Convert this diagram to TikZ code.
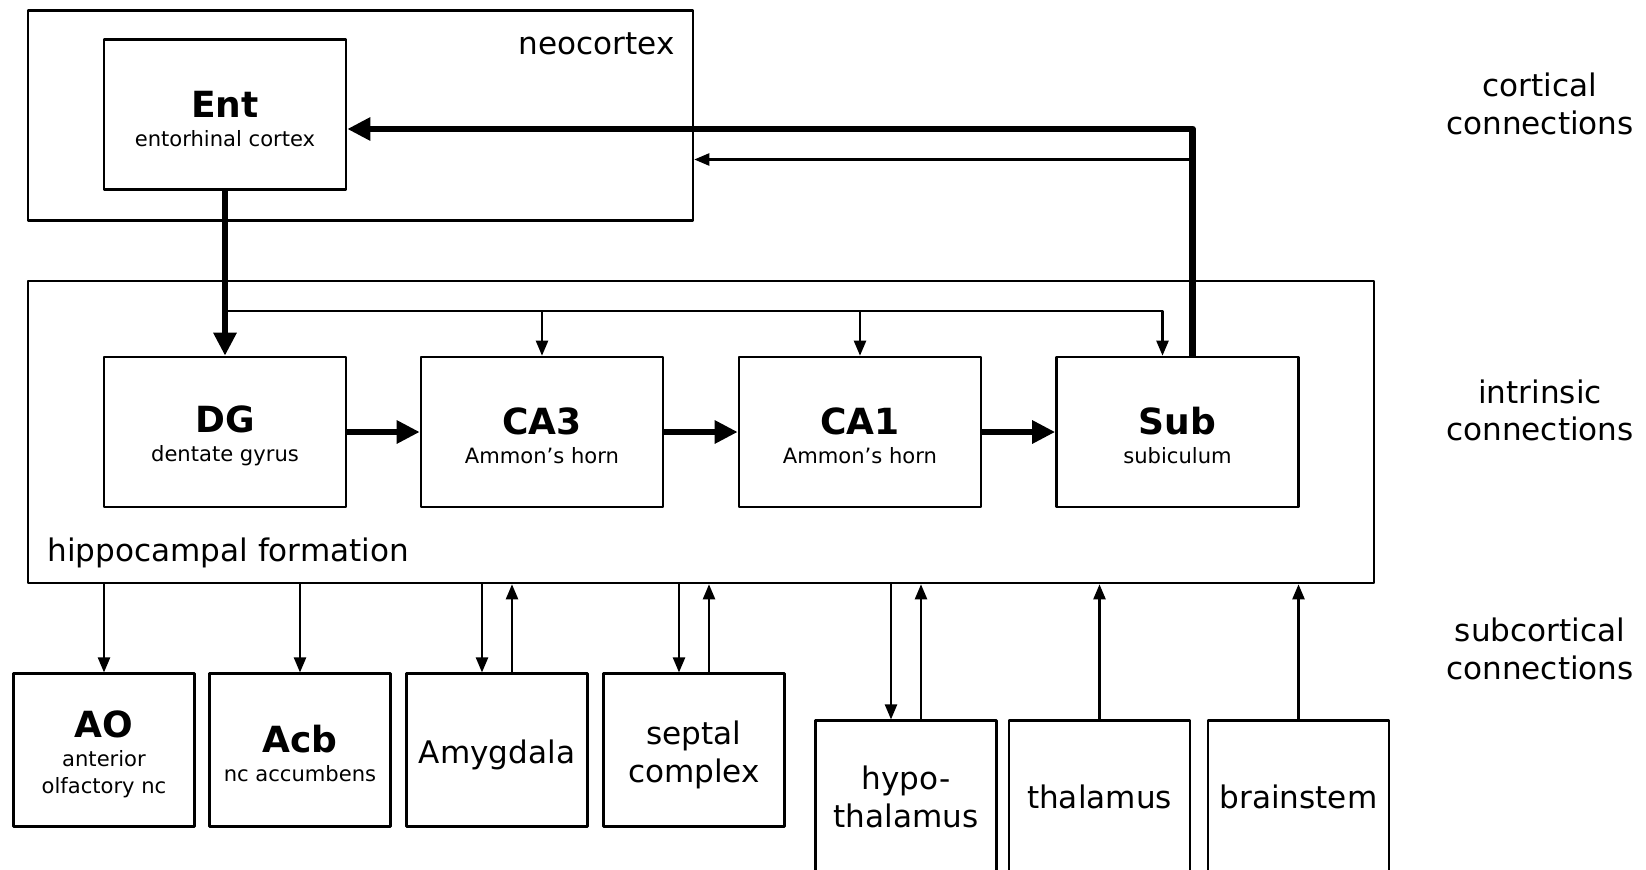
\documentclass[tikz,border=0pt]{standalone}
\usepackage{fontspec}
\setmainfont{DejaVu Sans}
\usetikzlibrary{arrows.meta}
\newcommand\boxtitle[1]{{\fontsize{20.5}{24}\selectfont\bfseries\rule{0pt}{20pt}#1}}
\newcommand\boxsub[1]{{\fontsize{12}{14}\selectfont #1}}
\newcommand\boxpad{\rule{0pt}{19pt}}

\begin{document}
\begin{tikzpicture}[x=0.02cm, y=-0.02cm, line join=round, font=\fontsize{17.7}{21.5}\selectfont,
	area/.style={draw, line width=1.5pt, inner sep=0pt},
	region/.style={area, minimum width=4.84cm, minimum height=3cm, align=center},
	nucleus/.style={area, minimum width=3.62cm, minimum height=3.05cm, align=center},
	fat/.style={line width=3.8pt, -{Triangle[length=0.46cm, width=0.44cm]}},
	slim/.style={line width=1.3pt, -{Triangle[length=0.3cm, width=0.24cm]}}]
	\useasboundingbox (0,0) rectangle (1646,869);
	\clip (0,0) rectangle (1646,869);
	% areas
	\node[area, minimum width=13.3cm, minimum height=4.2cm] (neo) at (360.5,115.5) {};
	\node[area, minimum width=26.92cm, minimum height=6.04cm] (hip) at (701,432) {};
	\node[anchor=east, inner sep=0pt] (neolbl) at (675,44) {neocortex};
	\node[anchor=west, inner sep=0pt] (hiplbl) at (47,553) {hippocampal formation};
	% regions
	\node[region] (Ent) at (225,114.5) {\boxtitle{Ent}\\[-5pt]\boxsub{entorhinal cortex}};
	\node[region] (DG) at (225,432) {\boxtitle{DG}\\[-5pt]\boxsub{dentate gyrus}};
	\node[region] (CA3) at (542,432) {\boxtitle{CA3}\\[-5pt]\boxsub{Ammon’s horn}};
	\node[region] (CA1) at (860,432) {\boxtitle{CA1}\\[-5pt]\boxsub{Ammon’s horn}};
	\node[region] (Sub) at (1177.5,432) {\boxtitle{Sub}\\[-5pt]\boxsub{subiculum}};
	% subcortical targets
	\node[nucleus] (AO) at (104,750) {\boxtitle{AO}\\[-5pt]\boxsub{anterior}\\[-6pt]\boxsub{olfactory nc}};
	\node[nucleus] (Acb) at (300,750) {\boxtitle{Acb}\\[-5pt]\boxsub{nc accumbens}};
	\node[nucleus] (Amy) at (497,750) {\boxpad Amygdala};
	\node[nucleus] (Sep) at (694,750) {\boxpad septal\\complex};
	\node[nucleus] (Hyp) at (906,797) {hypo-\\thalamus};
	\node[nucleus] (Tha) at (1099.5,797) {thalamus};
	\node[nucleus] (Bra) at (1298.5,797) {brainstem};
	\node[align=center] (cort) at (1540,104) {cortical\\connections};
	\node[align=center] (intr) at (1540,410.5) {intrinsic\\connections};
	\node[align=center] (subc) at (1540,649) {subcortical\\connections};
	% intrinsic connections
	\coordinate (fork) at (225,311);
	\draw[fat] (Ent.south) -- (DG.north);
	\draw[slim] (fork) -| ([xshift=-0.3cm]Sub.north);
	\foreach \n in {CA3,CA1}
		\draw[slim] (\n.north |- fork) -- (\n.north);
	\draw[fat] (DG) -- (CA3);
	\draw[fat] (CA3) -- (CA1);
	\draw[fat] (CA1) -- (Sub);
	% back to cortex
	\draw[fat] ([xshift=0.3cm]Sub.north) |- ([yshift=-0.29cm]Ent.east);
	\coordinate (back) at (1192.5,159.5);
	\draw[slim] (back) -- (back -| neo.east);
	% subcortical connections
	\foreach \n in {AO,Acb}
		\draw[slim] (\n.north |- hip.south) -- (\n.north);
	\foreach \n in {Amy,Sep,Hyp}{
		\path (\n.north) ++(-15,0) coordinate (dn) ++(30,0) coordinate (up);
		\draw[slim] (dn |- hip.south) -- (dn);
		\draw[slim] (up) -- (up |- hip.south);
	}
	\foreach \n in {Tha,Bra}
		\draw[slim] (\n.north) -- (\n.north |- hip.south);
\end{tikzpicture}
\end{document}
